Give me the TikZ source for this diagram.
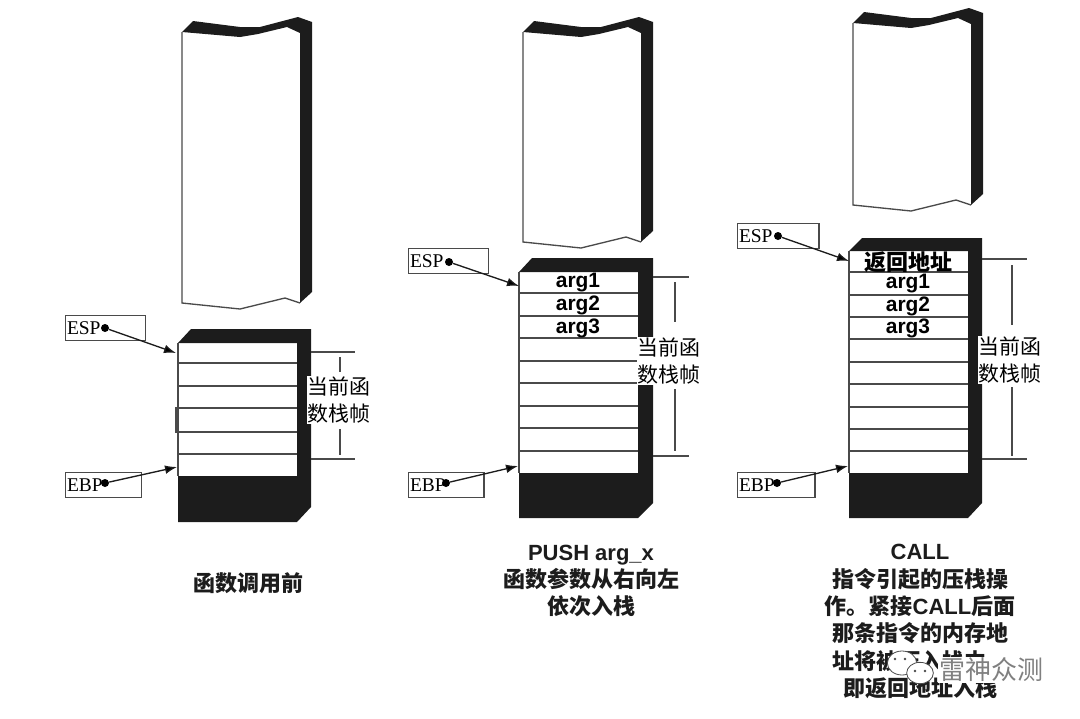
\documentclass[tikz,border=0pt]{standalone}
\usepackage{fontspec}
\setmainfont{Liberation Serif}
\setsansfont{Liberation Sans}
\newfontfamily\cjk{Noto Sans CJK SC}
\usetikzlibrary{positioning,shapes.geometric,arrows.meta}
\definecolor{stackink}{HTML}{1C1C1C}
\definecolor{lineink}{HTML}{4A4A4A}
\tikzset{
    regbox/.style={draw=lineink,line width=1pt,inner sep=1pt,text width=#1,align=left,
        minimum height=18.5pt,anchor=north west,font=\fontsize{14.6}{16}\selectfont},
    regdot/.style={circle,fill=black,inner sep=0pt,minimum size=6pt},
    regarrow/.style={-{Latex[length=9pt,width=6.5pt]},draw=stackink,line width=1pt},
    framelabel/.style={fill=white,inner sep=0.5pt,align=center,
        font=\cjk\fontsize{15.7}{20.2}\selectfont},
    slotlabel/.style={inner sep=0pt,font=\sffamily\bfseries\fontsize{15.7}{18}\selectfont},
    caption/.style={inner sep=0pt,align=center,text=stackink,
        font=\cjk\bfseries\fontsize{16.5}{20.5}\selectfont},
    dimline/.style={draw=lineink,line width=0.9pt},
    slotline/.style={draw=lineink,line width=1pt},
    bubble/.style={ellipse,fill=white,draw=lineink,line width=0.6pt,inner sep=0pt},
    eyedot/.style={circle,fill=lineink,inner sep=0pt,minimum size=2pt}
}
% upper part of a stack: x shift, y shift, left bottom y
\newcommand{\stackupper}[3]{
    \begin{scope}[shift={(#1,#2)}]
        \draw[slotline] (182,32) -- (182,#3) -- (240,#3+6) -- (285,#3-5) -- (300,#3);
        \fill[stackink] (182,32) -- (193,21) -- (240,27) -- (260,27) -- (298,17) -- (312,22)
            -- (312,#3-11) -- (300,#3) -- (300,33) -- (287,27) -- (258,34) -- (240,37) -- cycle;
    \end{scope}
}
% lower part: left, inner right, outer right, top, white top, white bottom, bottom
\newcommand{\stacklower}[7]{
    \fill[stackink] (#1,#5) -- (#1+13,#4) -- (#3,#4) -- (#3,#7-15) -- (#2,#7) -- (#1,#7)
        -- (#1,#6) -- (#2,#6) -- (#2,#5) -- cycle;
    \draw[slotline] (#1,#5) -- (#1,#6);
}
\begin{document}
\begin{tikzpicture}[x=0.75pt,y=-0.75pt]
    \useasboundingbox (0,0) rectangle (1080,718);

    \stackupper{0}{0}{303}
    \stackupper{341}{0}{242}
    \stackupper{671}{-9}{214}

    \stacklower{178}{297}{311}{329}{343}{476}{522}
    \stacklower{519}{638}{653}{258}{272}{473}{518}
    \stacklower{849}{968}{982}{238}{251}{473}{518}

    % slots
    \foreach \y in {363,386,408,432,454}
        \draw[slotline] (178,\y) -- (297,\y);
    \draw[slotline] (178,408) -- (176,408) -- (176,432) -- (178,432);
    \foreach \y in {293,316,338,361,383,406,428,451}
        \draw[slotline] (519,\y) -- (638,\y);
    \foreach \y in {272,295,317,339,362,384,407,429,451}
        \draw[slotline] (849,\y) -- (968,\y);

    \node[slotlabel] (argoneB) at (578,283) {arg1};
    \node[slotlabel] (argtwoB) at (578,305) {arg2};
    \node[slotlabel] (argthreeB) at (578,328) {arg3};
    \node[slotlabel,font=\cjk\bfseries\fontsize{16.5}{18}\selectfont] (retaddr) at (908,262) {返回地址};
    \node[slotlabel] (argoneC) at (908,284) {arg1};
    \node[slotlabel] (argtwoC) at (908,306) {arg2};
    \node[slotlabel] (argthreeC) at (908,328) {arg3};

    % registers
    \node[regbox=58pt] (espA) at (65,315) {ESP};
    \node[regbox=55pt] (ebpA) at (65,472) {EBP};
    \node[regbox=58pt] (espB) at (408,248) {ESP};
    \node[regbox=54.5pt] (ebpB) at (408,472) {EBP};
    \node[regbox=59pt] (espC) at (737,223) {ESP};
    \node[regbox=56pt] (ebpC) at (737,472) {EBP};

    \node[regdot] (espdotA) at (105,328) {};
    \node[regdot] (ebpdotA) at (105,483) {};
    \node[regdot] (espdotB) at (449,262) {};
    \node[regdot] (ebpdotB) at (446,483) {};
    \node[regdot] (espdotC) at (778,236) {};
    \node[regdot] (ebpdotC) at (777,483) {};

    \coordinate (esptipA) at (176,353);
    \coordinate (ebptipA) at (177,467);
    \coordinate (esptipB) at (519,286);
    \coordinate (ebptipB) at (518,466);
    \coordinate (esptipC) at (849,261);
    \coordinate (ebptipC) at (848,466);

    \path[regarrow]
    (espdotA) edge (esptipA)
    (ebpdotA) edge (ebptipA)
    (espdotB) edge (esptipB)
    (ebpdotB) edge (ebptipB)
    (espdotC) edge (esptipC)
    (ebpdotC) edge (ebptipC)
    ;

    % current frame
    \node[framelabel] (frameA) at (339,400) {当前函\\数栈帧};
    \node[framelabel] (frameB) at (669,361) {当前函\\数栈帧};
    \node[framelabel] (frameC) at (1010,360) {当前函\\数栈帧};

    \coordinate (rtopAl) at (311,352);
    \coordinate (rtopAr) at (355,352);
    \coordinate (rbotAl) at (311,459);
    \coordinate (rbotAr) at (355,459);
    \coordinate (rtopBl) at (653,277);
    \coordinate (rtopBr) at (689,277);
    \coordinate (rbotBl) at (653,456);
    \coordinate (rbotBr) at (689,456);
    \coordinate (rtopCl) at (982,259);
    \coordinate (rtopCr) at (1027,259);
    \coordinate (rbotCl) at (982,459);
    \coordinate (rbotCr) at (1027,459);
    \coordinate (dimaA) at (340,357);
    \coordinate (dimbA) at (340,372);
    \coordinate (dimcA) at (340,429);
    \coordinate (dimdA) at (340,455);
    \coordinate (dimaB) at (675,282);
    \coordinate (dimbB) at (675,322);
    \coordinate (dimcB) at (675,389);
    \coordinate (dimdB) at (675,451);
    \coordinate (dimaC) at (1012,265);
    \coordinate (dimbC) at (1012,325);
    \coordinate (dimcC) at (1012,387);
    \coordinate (dimdC) at (1012,456);
    \foreach \s in {A,B,C} {
        \draw[dimline] (rtop\s l) -- (rtop\s r);
        \draw[dimline] (rbot\s l) -- (rbot\s r);
        \draw[dimline] (dima\s) -- (dimb\s);
        \draw[dimline] (dimc\s) -- (dimd\s);
    }

    % captions
    \node[caption] (capA) at (248,583) {函数调用前};
    \node[caption] (capB) at (591,581) {{\sffamily\bfseries PUSH arg\_x}\\函数参数从右向左\\依次入栈};
    \node[caption] (capC) at (920,621.5) {{\sffamily\bfseries CALL}\\指令引起的压栈操\\作。紧接{\sffamily\bfseries CALL}后面\\那条指令的内存地\\址将被压入栈中，\\即返回地址入栈};

    % watermark
    \node[inner sep=1pt,fill=white,text=gray,font=\cjk\fontsize{19.5}{22}\selectfont] (mark) at (991,670) {雷神众测};
    \node[bubble,minimum width=22pt,minimum height=18pt] (bubbleA) at (902,663) {};
    \node[bubble,minimum width=20pt,minimum height=16pt] (bubbleB) at (920,673) {};
    \node[eyedot] (eyeA) at (895,659) {};
    \node[eyedot] (eyeB) at (905,659) {};
    \node[eyedot] (eyeC) at (915,671) {};
    \node[eyedot] (eyeD) at (925,671) {};
\end{tikzpicture}
\end{document}
